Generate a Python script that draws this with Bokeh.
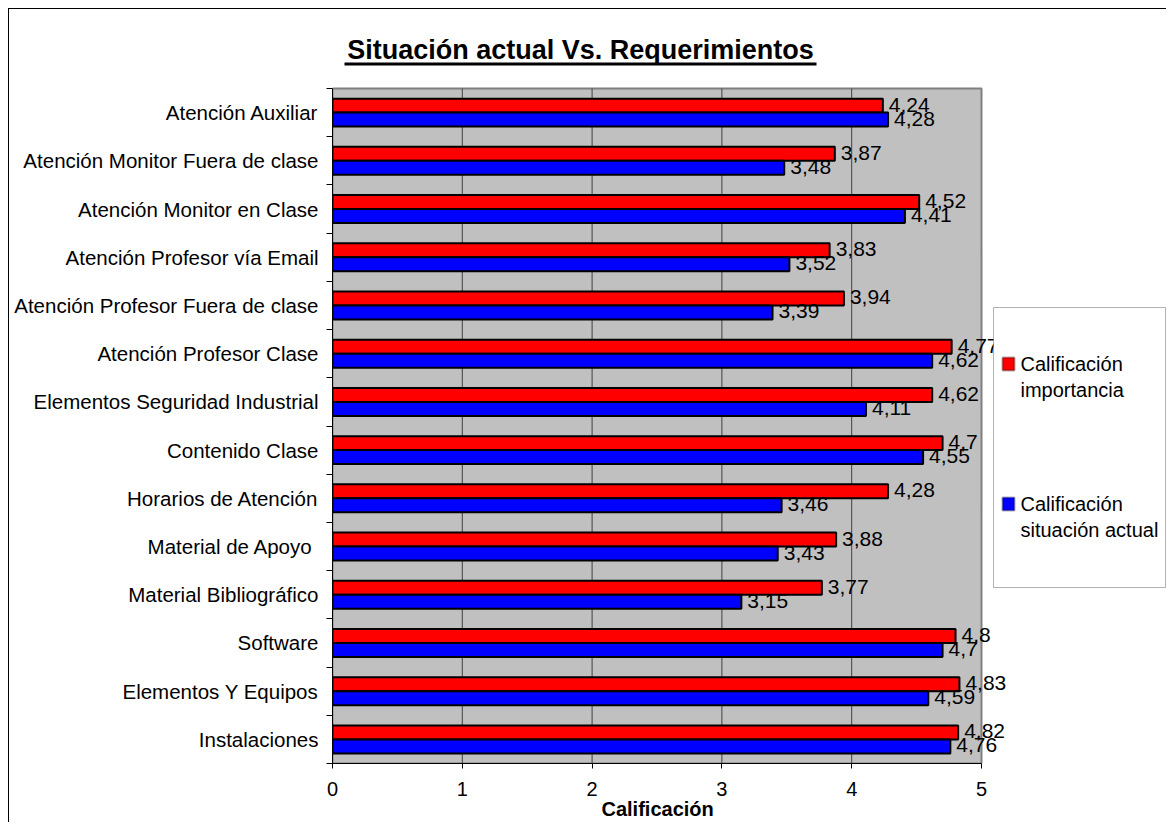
from bokeh.plotting import figure
from bokeh.models import (Range1d, FixedTicker, LabelSet, Label, BoxAnnotation,
                          ColumnDataSource, Title)
from bokeh.core.properties import value
from bokeh.embed import file_html
from bokeh.resources import INLINE

# Survey categories, listed top to bottom
categories = [
    "Atención Auxiliar",
    "Atención Monitor Fuera de clase",
    "Atención Monitor en Clase",
    "Atención Profesor vía Email",
    "Atención Profesor Fuera de clase",
    "Atención Profesor Clase",
    "Elementos Seguridad Industrial",
    "Contenido Clase",
    "Horarios de Atención",
    "Material de  Apoyo",
    "Material Bibliográfico",
    "Software",
    "Elementos Y Equipos",
    "Instalaciones",
]
importancia = [4.24, 3.87, 4.52, 3.83, 3.94, 4.77, 4.62, 4.70, 4.28, 3.88, 3.77, 4.80, 4.83, 4.82]
situacion = [4.28, 3.48, 4.41, 3.52, 3.39, 4.62, 4.11, 4.55, 3.46, 3.43, 3.15, 4.70, 4.59, 4.76]
x_ticks = [0, 1, 2, 3, 4, 5]

series_names = ["Calificación importancia", "Calificación situación actual"]
series_colors = ["#FF0000", "#0000FF"]

FONT = "Liberation Sans"
PAGE_W, PAGE_H = 1167, 823
EDGE = 8                     # page margin in front of the chart border
BW = 1                       # chart border width
OFF = EDGE + BW              # canvas origin on the page
W, H = PAGE_W - OFF, PAGE_H - OFF

# plot area (gray box) on the page, in pixels
LEFT, RIGHT, TOP, BOTTOM = 332, 981, 88, 763
n = len(categories)
XMAX = x_ticks[-1]
px_x = (RIGHT - LEFT) / XMAX
px_y = (BOTTOM - TOP) / n

# frame reaches right and top edges so the title and legend live inside it
FRAME_RIGHT, FRAME_TOP = PAGE_W - 1, OFF + 1


def xd(px):
    """Page x pixel -> data x."""
    return (px - LEFT) / px_x


def yd(py):
    """Page y pixel -> data y."""
    return n - (py - TOP) / px_y


def fmt(v):
    return f"{v:g}".replace(".", ",")


centers = [n - 0.5 - i for i in range(n)]
offset = 0.145
bar_h = 0.29

p = figure(width=W, height=H, output_backend="svg", toolbar_location=None,
           x_range=Range1d(0, xd(FRAME_RIGHT)), y_range=Range1d(0, yd(FRAME_TOP)),
           min_border_left=LEFT - OFF, min_border_right=PAGE_W - FRAME_RIGHT,
           min_border_top=FRAME_TOP - OFF, min_border_bottom=PAGE_H - BOTTOM)
p.styles = {"margin-left": f"{EDGE}px", "margin-top": f"{EDGE}px",
            "border-left": f"{BW}px solid black", "border-top": f"{BW}px solid black"}
p.title.visible = False
p.background_fill_color = "white"
p.border_fill_color = "white"
p.outline_line_color = None
p.xgrid.visible = False
p.ygrid.visible = False

# gray plot area and vertical grid lines
p.quad(left=0, right=XMAX, bottom=0, top=n, fill_color="#C0C0C0",
       line_color="#808080", line_width=2)
p.segment(x0=x_ticks[1:-1], y0=0, x1=x_ticks[1:-1], y1=n,
          line_color="#404040", line_width=1)

src_imp = ColumnDataSource(dict(
    y=[c + offset for c in centers], v=importancia,
    t=[fmt(v) for v in importancia]))
src_act = ColumnDataSource(dict(
    y=[c - offset for c in centers], v=situacion,
    t=[fmt(v) for v in situacion]))

p.hbar(y="y", left=0, right="v", height=bar_h, source=src_imp,
       fill_color=series_colors[0], line_color="black", line_width=2)
p.hbar(y="y", left=0, right="v", height=bar_h, source=src_act,
       fill_color=series_colors[1], line_color="black", line_width=2)

for src in (src_imp, src_act):
    p.add_layout(LabelSet(x="v", y="y", text="t", source=src, x_offset=6, y_offset=1,
                          text_font=value(FONT), text_font_size="21px",
                          text_color="black", text_baseline="middle",
                          text_align="left"))

# Axes
p.xaxis.bounds = (0, XMAX)
p.xaxis.ticker = FixedTicker(ticks=x_ticks)
p.xaxis.major_tick_out = 5
p.xaxis.major_tick_in = 0
p.xaxis.minor_tick_line_color = None
p.xaxis.axis_line_color = "black"
p.xaxis.major_tick_line_color = "black"
p.xaxis.major_label_text_font = FONT
p.xaxis.major_label_text_font_size = "20px"
p.xaxis.major_label_text_color = "black"
p.xaxis.major_label_standoff = 13

# x axis title, placed under the middle of the gray plot area
AXIS_TITLE_LEFT = 601
p.add_layout(Title(text="Calificación", align="left", offset=AXIS_TITLE_LEFT - LEFT,
                   standoff=-6, text_font=FONT, text_font_size="20px",
                   text_font_style="bold", text_color="black"), "below")

p.yaxis.bounds = (0, n)
p.yaxis.ticker = FixedTicker(ticks=centers, minor_ticks=list(range(n + 1)))
p.yaxis.major_label_overrides = {c: name for c, name in zip(centers, categories)}
p.yaxis.major_tick_out = 0
p.yaxis.major_tick_in = 0
p.yaxis.minor_tick_out = 6
p.yaxis.minor_tick_in = 0
p.yaxis.minor_tick_line_color = "black"
p.yaxis.axis_line_color = "black"
p.yaxis.major_label_text_font = FONT
p.yaxis.major_label_text_font_size = "20.5px"
p.yaxis.major_label_text_color = "black"
p.yaxis.major_label_standoff = 8

# Title with underline
p.add_layout(Label(x=xd(580), y=yd(49), text="Situación actual Vs. Requerimientos",
                   text_font=FONT, text_font_size="27px", text_font_style="bold",
                   text_align="center", text_baseline="middle", text_color="black"))
p.add_layout(BoxAnnotation(left=xd(344), right=xd(816), top=yd(62), bottom=yd(65),
                           fill_color="black", fill_alpha=1, line_color=None))

# Legend
p.add_layout(BoxAnnotation(left=xd(993), right=xd(1165), top=yd(307), bottom=yd(587),
                           fill_color="white", fill_alpha=1, line_color="black",
                           line_width=1))
legend_rows = [(357, 363), (497, 503)]
for (sq_top, text_y), name, color in zip(legend_rows, series_names, series_colors):
    p.add_layout(BoxAnnotation(left=xd(1002), right=xd(1014), top=yd(sq_top),
                               bottom=yd(sq_top + 13), fill_color=color, fill_alpha=1,
                               line_color="black", line_width=2))
    first, second = name.split(" ", 1)
    for k, part in enumerate((first, second)):
        p.add_layout(Label(x=xd(1020), y=yd(text_y + 26 * k), text=part,
                           text_font=FONT, text_font_size="20px", text_color="black",
                           text_align="left", text_baseline="middle"))

open("out.html", "w").write(file_html(p, INLINE))
